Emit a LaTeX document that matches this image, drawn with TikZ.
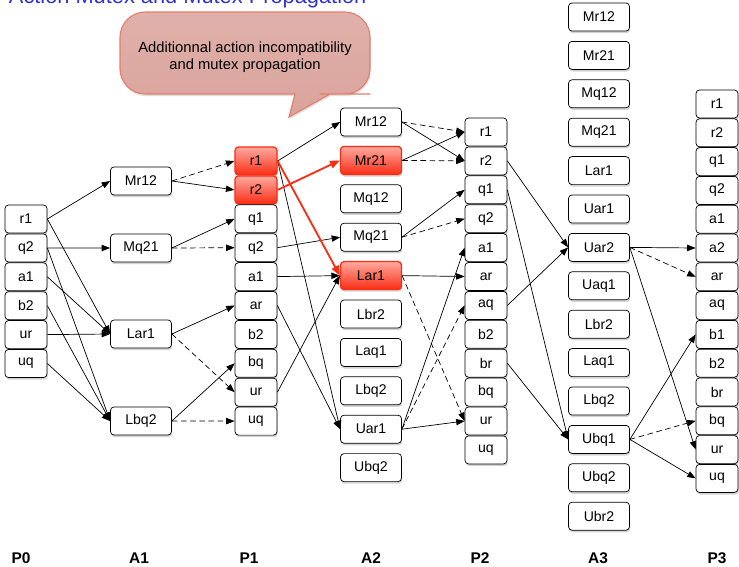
\documentclass[tikz,border=0pt]{standalone}
\usepackage{fontspec}
\setmainfont{Liberation Sans}
\usetikzlibrary{arrows.meta,shadows}

\definecolor{hotred}{RGB}{250,45,20}
\definecolor{hotlight}{RGB}{255,170,160}
\definecolor{notefill}{RGB}{218,163,155}
\definecolor{noteline}{RGB}{232,124,110}
\definecolor{titleblue}{RGB}{50,50,205}

\tikzset{
  box/.style={draw=black, line width=0.5pt, rounded corners=2.5pt, fill=white,
    inner sep=0pt, minimum height=0.7cm, font=\fontsize{10}{12}\selectfont,
    drop shadow={shadow xshift=0.5pt, shadow yshift=-1.5pt, opacity=0.35}},
  pbox/.style={box, minimum width=1.05cm},
  abox/.style={box, minimum width=1.525cm},
  plain/.style={},
  hot/.style={draw=hotred, line width=0.9pt, top color=hotlight, bottom color=hotred},
  addedge/.style={-{Triangle[length=6pt,width=4.5pt]}, line width=0.5pt},
  deledge/.style={addedge, dash pattern=on 4pt off 2.5pt},
  hotedge/.style={-{Triangle[length=7pt,width=5.5pt]}, line width=1.3pt, draw=hotred},
  layer/.style={anchor=base, font=\fontsize{11}{13}\selectfont\bfseries},
  note/.style={draw=noteline, line width=0.8pt, top color=notefill!85!white, bottom color=notefill,
    drop shadow={shadow xshift=0.5pt, shadow yshift=-1.5pt, opacity=0.25}}
}

\begin{document}
\begin{tikzpicture}[x=0.025cm, y=-0.025cm]
\useasboundingbox (0,0) rectangle (739,567);
%%%%%column positions and pitches
\def\pp{28.9}
\def\pa{38.4}

\node[anchor=base west, text=titleblue, font=\fontsize{15.5}{18}\selectfont] (title) at (4,3) {Action Mutex and Mutex Propagation};

%%%%%callout starts here
\draw[note] (200,94) [rounded corners=18pt] -- (120,94) -- (120,12) -- (370,12) -- (370,94) -- (345,94)
  [sharp corners] -- (330,94) -- (289,117) -- (295,94) -- cycle;
\node[align=center, font=\fontsize{10.5}{12.5}\selectfont] (notetext) at (245,57)
  {Additionnal action incompatibility\\and mutex propagation};
%%%%%callout ends here

%%%%%proposition and action levels
\foreach \n [count=\i from 0] in {r1,q2,a1,b2,ur,uq}
  \node[pbox] (p0\n) at (26, {219+\i*\pp}) {\n};

\node[abox] (a1Mr12) at (141,181) {Mr12};
\node[abox] (a1Mq21) at (141,248) {Mq21};
\node[abox] (a1Lar1) at (141,334) {Lar1};
\node[abox] (a1Lbq2) at (141,421) {Lbq2};

\foreach \n/\s [count=\i from 0] in {r1/hot,r2/hot,q1/plain,q2/plain,a1/plain,ar/plain,b2/plain,bq/plain,ur/plain,uq/plain}
  \node[pbox,\s] (p1\n) at (256, {161+\i*\pp}) {\n};

\foreach \n/\s [count=\i from 0] in {Mr12/plain,Mr21/hot,Mq12/plain,Mq21/plain,Lar1/hot,Lbr2/plain,Laq1/plain,Lbq2/plain,Uar1/plain,Ubq2/plain}
  \node[abox,\s] (a2\n) at (371, {122+\i*\pa}) {\n};

\foreach \n [count=\i from 0] in {r1,r2,q1,q2,a1,ar,aq,b2,br,bq,ur,uq}
  \node[pbox] (p2\n) at (486, {132+\i*\pp}) {\n};

\foreach \n [count=\i from 0] in {Mr12,Mr21,Mq12,Mq21,Lar1,Uar1,Uar2,Uaq1,Lbr2,Laq1,Lbq2,Ubq1,Ubq2,Ubr2}
  \node[abox] (a3\n) at (599, {17+\i*\pa}) {\n};

\foreach \n [count=\i from 0] in {r1,r2,q1,q2,a1,a2,ar,aq,b1,b2,br,bq,ur,uq}
  \node[pbox] (p3\n) at (717, {104+\i*28.8}) {\n};

%%%%%level names
\foreach \n/\x in {P0/21,A1/139,P1/249,A2/371,P2/480,A3/598,P3/717}
  \node[layer] (l\n) at (\x,563) {\n};

%%%%%P0 -> A1 -> P1
\draw[addedge] (p0r1.east) -- (a1Mr12.west);
\draw[addedge] (p0q2.east) -- (a1Mq21.west);
\foreach \n in {r1,a1,ur} \draw[addedge] (p0\n.east) -- (a1Lar1.west);
\foreach \n in {q2,b2,uq} \draw[addedge] (p0\n.east) -- (a1Lbq2.west);

\draw[deledge] (a1Mr12.east) -- (p1r1.west);
\draw[addedge] (a1Mr12.east) -- (p1r2.west);
\draw[addedge] (a1Mq21.east) -- (p1q1.west);
\draw[deledge] (a1Mq21.east) -- (p1q2.west);
\draw[addedge] (a1Lar1.east) -- (p1ar.west);
\draw[deledge] (a1Lar1.east) -- (p1ur.west);
\draw[addedge] (a1Lbq2.east) -- (p1bq.west);
\draw[deledge] (a1Lbq2.east) -- (p1uq.west);

%%%%%P1 -> A2 -> P2
\draw[addedge] (p1r1.east) -- (a2Mr12.west);
\draw[addedge] (p1r1.east) -- (a2Uar1.west);
\draw[addedge] (p1q2.east) -- (a2Mq21.west);
\draw[addedge] (p1a1.east) -- (a2Lar1.west);
\draw[addedge] (p1ur.east) -- (a2Lar1.west);
\draw[addedge] (p1ar.east) -- (a2Uar1.west);

\draw[deledge] (a2Mr12.east) -- (p2r1.west);
\draw[addedge] (a2Mr12.east) -- (p2r2.west);
\draw[addedge] (a2Mr21.east) -- (p2r1.west);
\draw[deledge] (a2Mr21.east) -- (p2r2.west);
\draw[addedge] (a2Mq21.east) -- (p2q1.west);
\draw[deledge] (a2Mq21.east) -- (p2q2.west);
\draw[addedge] (a2Lar1.east) -- (p2ar.west);
\draw[deledge] (a2Lar1.east) -- (p2ur.west);
\draw[addedge] (a2Uar1.east) -- (p2a1.west);
\draw[deledge] (a2Uar1.east) -- (p2aq.west);
\draw[addedge] (a2Uar1.east) -- (p2ur.west);

%%%%%P2 -> A3 -> P3
\draw[addedge] (p2r2.east) -- (a3Uar2.west);
\draw[addedge] (p2aq.east) -- (a3Uar2.west);
\draw[addedge] (p2q1.east) -- (a3Ubq1.west);
\draw[addedge] (p2br.east) -- (a3Ubq1.west);

\draw[addedge] (a3Uar2.east) -- (p3a2.west);
\draw[deledge] (a3Uar2.east) -- (p3ar.west);
\draw[addedge] (a3Uar2.east) -- (p3ur.west);
\draw[addedge] (a3Ubq1.east) -- (p3b1.west);
\draw[deledge] (a3Ubq1.east) -- (p3bq.west);
\draw[addedge] (a3Ubq1.east) -- (p3uq.west);

%%%%%new mutexes
\draw[hotedge] (p1r2.east) -- (a2Mr21.west);
\draw[hotedge] (p1r1.east) -- (a2Lar1.west);
\end{tikzpicture}
\end{document}
